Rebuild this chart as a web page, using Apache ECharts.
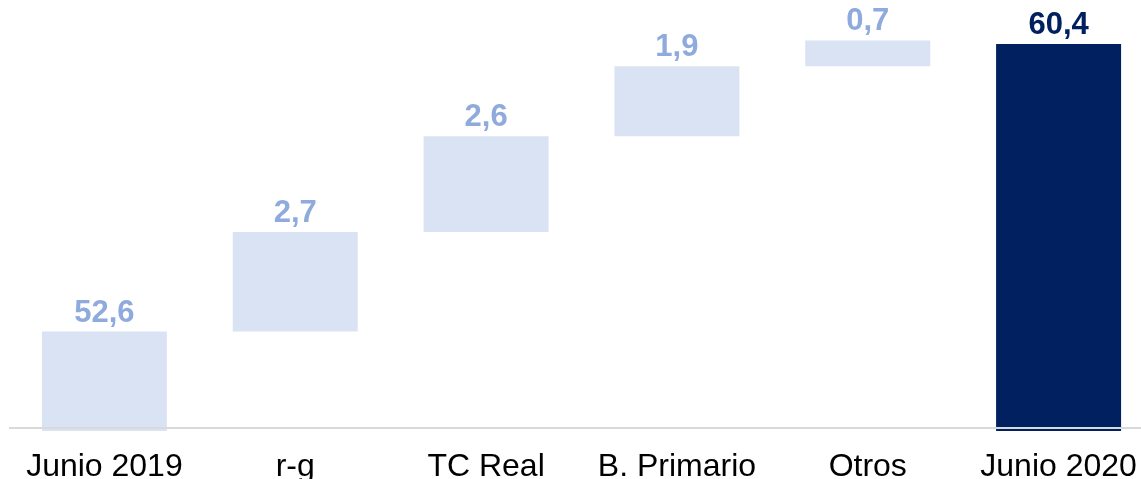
<!DOCTYPE html>
<html>
<head>
<meta charset="utf-8">
<script src="https://cdn.jsdelivr.net/npm/echarts@6/dist/echarts.min.js"></script>
<style>html,body{margin:0;padding:0;background:#fff}#c{width:1141px;height:479px}</style>
</head>
<body>
<div id="c"></div>
<script>
const categories = ['Junio 2019', 'r-g', 'TC Real', 'B. Primario', 'Otros', 'Junio 2020'];
const baseValues = [0, 52.6, 55.3, 57.9, 59.8, 0];
const stepValues = [52.6, 2.7, 2.6, 1.9, 0.7, 60.4];
const valueLabels = ['52,6', '2,7', '2,6', '1,9', '0,7', '60,4'];
const isTotal = [false, false, false, false, false, true];
const axisBase = 50;

const chart = echarts.init(document.getElementById('c'), null, {renderer: 'canvas'});
chart.setOption({
  animation: false,
  grid: {left: 9, width: 1145, top: 22, bottom: 48, containLabel: false, outerBoundsMode: 'none'},
  xAxis: {
    type: 'category',
    data: categories,
    axisLine: {show: false},
    axisTick: {show: false},
    axisLabel: {color: '#000', fontFamily: 'Liberation Sans, Arial', fontSize: 32, margin: 20, interval: 0, hideOverlap: false}
  },
  yAxis: {type: 'value', min: 49.9, max: 61, show: false, splitLine: {show: false}},
  series: [
    {
      type: 'bar', stack: 'w', barWidth: 125,
      data: baseValues,
      itemStyle: {color: 'transparent'},
      silent: true
    },
    {
      type: 'bar', stack: 'w', barWidth: 125,
      data: stepValues.map((v, i) => ({
        value: v,
        itemStyle: {color: isTotal[i] ? '#002060' : '#DAE3F3'},
        label: {color: isTotal[i] ? '#002060' : '#8FAADC'}
      })),
      label: {
        show: true, position: 'top', distance: 3,
        fontFamily: 'Liberation Sans, Arial', fontSize: 31, fontWeight: 'bold',
        formatter: p => valueLabels[p.dataIndex]
      },
      markLine: {
        silent: true, symbol: 'none', z: 10,
        label: {show: false},
        lineStyle: {color: '#D9D9D9', width: 2, type: 'solid'},
        data: [{yAxis: axisBase}]
      }
    }
  ]
});
</script>
</body>
</html>
